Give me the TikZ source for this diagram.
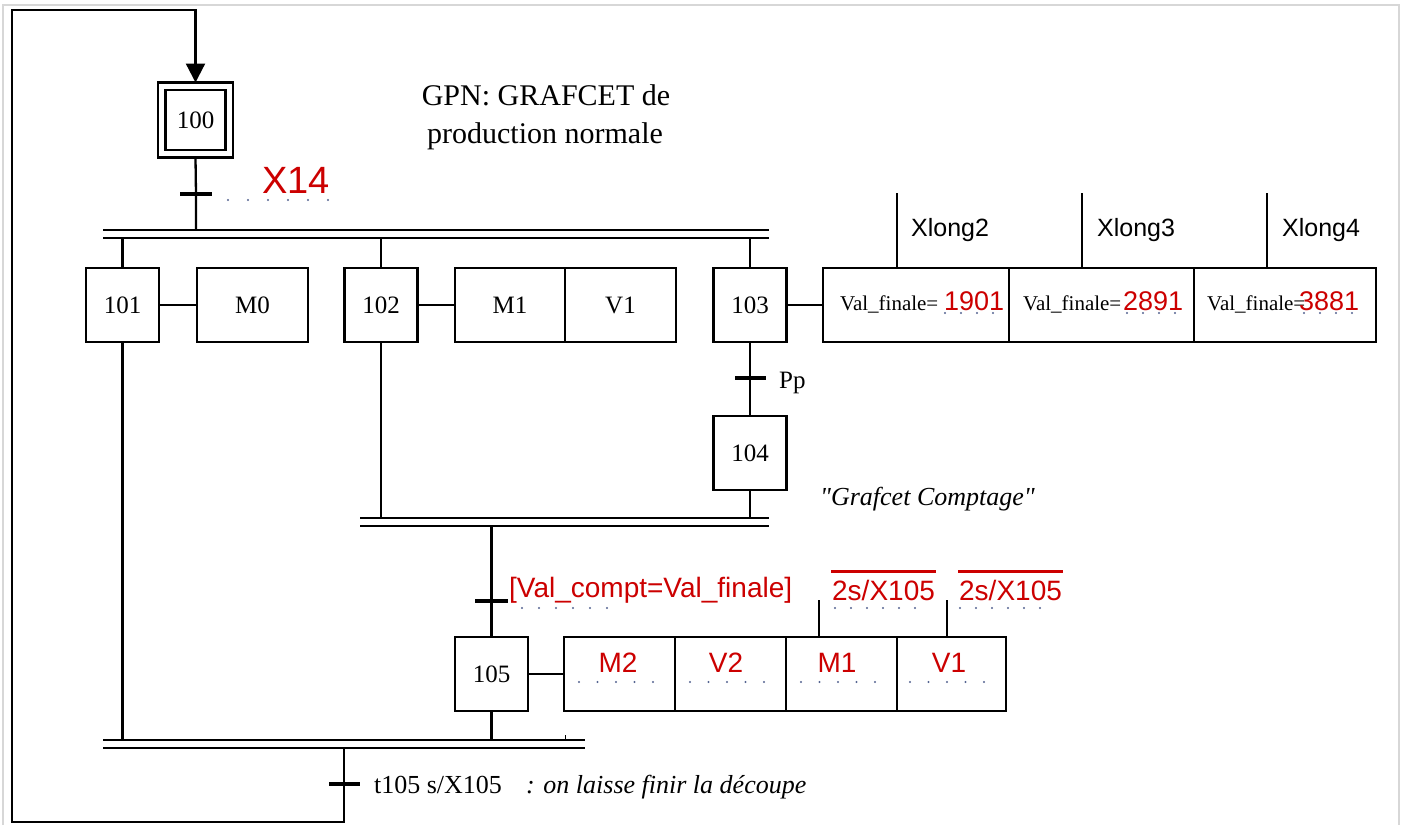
\documentclass[tikz,border=0pt]{standalone}
\usepackage{fontspec}
\setmainfont{Liberation Serif}
\newfontfamily\arialf{Liberation Sans}
\usetikzlibrary{arrows.meta,calc}
\definecolor{redt}{RGB}{204,0,0}
\definecolor{dotc}{RGB}{85,100,145}
\definecolor{framec}{RGB}{215,215,215}
\begin{document}
\begin{tikzpicture}[x=1pt,y=-1pt,line width=2.3pt,
  stepbox/.style={draw, line width=2.3pt, minimum width=73pt, minimum height=74pt, inner sep=0pt, outer sep=0pt, font=\fontsize{25}{30}\selectfont},
  actbox/.style={draw, line width=2.3pt, minimum height=74pt, inner sep=0pt, outer sep=0pt, font=\fontsize{25}{30}\selectfont},
  tbar/.style={fill=black, draw=none, minimum width=32pt, minimum height=4.8pt, inner sep=0pt, outer sep=0pt},
  dblbar/.style={line width=2.6pt},
  link/.style={line width=2.3pt},
  dotrow/.style={dotc, line width=2.2pt, line cap=round, dash pattern=on 0pt off #1},
  redlbl/.style={text=redt, font=\arialf\fontsize{28}{33}\selectfont, inner sep=0pt, anchor=base west},
  redsmall/.style={text=redt, font=\arialf\fontsize{27}{32}\selectfont, inner sep=0pt, anchor=base west},
  vallbl/.style={font=\fontsize{21}{25}\selectfont, inner sep=0pt, anchor=base west},
  xlbl/.style={font=\arialf\fontsize{25}{30}\selectfont, inner sep=0pt, anchor=base west},
  txt/.style={font=\fontsize{26}{31}\selectfont, inner sep=0pt, anchor=base west},
  ovl/.style={redt, line width=3pt}
]
\useasboundingbox (0,0) rectangle (1405,825);
\fill[white] (0,0) rectangle (1405,825);
\draw[framec, line width=1.2pt] (3,825) -- (3,5) -- (1399,5) -- (1399,825);

% ---------- coordinates ----------
\coordinate (looptop) at (12,10);
\coordinate (loopbot) at (12,822);
\coordinate (b1top) at (0,230);
\coordinate (b1bot) at (0,238);
\coordinate (b2top) at (0,518);
\coordinate (b2bot) at (0,526);
\coordinate (b3top) at (0,740);
\coordinate (b3bot) at (0,748);
\coordinate (ovy) at (0,571);

% ---------- steps ----------
\node[draw, line width=2.3pt, minimum size=75pt, inner sep=0pt, outer sep=0pt] (s100) at (195.5,120) {};
\node[stepbox, minimum width=60pt, minimum height=60pt] (s100i) at (s100) {100};
\node[stepbox] (s101) at (122.5,305) {101};
\node[stepbox] (s102) at (381,305) {102};
\node[stepbox] (s103) at (750,305) {103};
\node[stepbox] (s104) at (750,453) {104};
\node[stepbox] (s105) at (491.5,674) {105};

% ---------- actions ----------
\node[actbox, minimum width=111pt] (a101) at (252.5,305) {M0};
\node[actbox, minimum width=110pt, anchor=west] (a102a) at (455,305) {M1};
\node[actbox, minimum width=111pt, anchor=west] (a102b) at (a102a.east) {V1};
\node[actbox, minimum width=186pt, anchor=west] (a103a) at (823,305) {};
\node[actbox, minimum width=185pt, anchor=west] (a103b) at (a103a.east) {};
\node[actbox, minimum width=182pt, anchor=west] (a103c) at (a103b.east) {};
\node[actbox, minimum width=111pt, anchor=west] (a105a) at (564,674) {};
\node[actbox, minimum width=111pt, anchor=west] (a105b) at (a105a.east) {};
\node[actbox, minimum width=111pt, anchor=west] (a105c) at (a105b.east) {};
\node[actbox, minimum width=109pt, anchor=west] (a105d) at (a105c.east) {};

% ---------- transitions ----------
\node[tbar] (t100) at (196,194) {};
\node[tbar, minimum width=31pt] (t103) at (750,378) {};
\node[tbar, minimum width=33pt] (t105) at (491.5,601) {};
\node[tbar, minimum width=31pt] (t106) at (344,784) {};

% ---------- double bars ----------
\draw[dblbar] (103,230) -- (769,230);
\draw[dblbar] (103,238) -- (769,238);
\draw[dblbar] (360,518) -- (769,518);
\draw[dblbar] (360,526) -- (769,526);
\draw[dblbar] (103,740) -- (585,740);
\draw[dblbar] (103,748) -- (585,748);
\draw[line width=1pt] (565,735) -- (565,740);

% ---------- connectors ----------
\draw[link] (s100.south) -- (t100.center) -- (t100.center |- b1top);
\draw[link] (s101.north |- b1bot) -- (s101.north);
\draw[link] (s102.north |- b1bot) -- (s102.north);
\draw[link] (s103.north |- b1bot) -- (s103.north);
\draw[link] (s101.east) -- (a101.west);
\draw[link] (s102.east) -- (a102a.west);
\draw[link] (s103.east) -- (a103a.west);
\draw[link] (s103.south) -- (t103.center) -- (s104.north);
\draw[link] (s104.south) -- (s104.south |- b2top);
\draw[link] (s102.south) -- (s102.south |- b2top);
\draw[link] (s105.north |- b2bot) -- (t105.center) -- (s105.north);
\draw[link] (s105.east) -- (a105a.west);
\draw[link] (s105.south) -- (s105.south |- b3top);
\draw[link] (s101.south) -- (s101.south |- b3top);
\coordinate (j3) at (344,748);
\draw[link, -{Triangle[width=19pt,length=19pt]}] (j3) -- (t106.center) -- (t106.center |- loopbot) -- (loopbot) -- (looptop) -- (s100.north |- looptop) -- (s100.north);

% Xlong taps
\coordinate (xl2) at (897,193);
\coordinate (xl3) at (1082,193);
\coordinate (xl4) at (1267,193);
\draw[link] (xl2) -- (xl2 |- a103a.north);
\draw[link] (xl3) -- (xl3 |- a103b.north);
\draw[link] (xl4) -- (xl4 |- a103c.north);
\coordinate (tm1) at (819,600);
\coordinate (tv1) at (947,600);
\draw[link] (tm1) -- (tm1 |- a105c.north);
\draw[link] (tv1) -- (tv1 |- a105d.north);

% ---------- dots ----------
\draw[dotrow=20pt] (228,200) -- (328.5,200);
\draw[dotrow=16pt] (945,313) -- (993.5,313);
\draw[dotrow=16pt] (1127,313) -- (1175.5,313);
\draw[dotrow=16pt] (1304,313) -- (1352.5,313);
\draw[dotrow=17pt] (522,608) -- (607.5,608);
\draw[dotrow=16pt] (835,608) -- (915.5,608);
\draw[dotrow=16pt] (960,608) -- (1040.5,608);
\draw[dotrow=18.5pt] (579,682) -- (653.5,682);
\draw[dotrow=18.5pt] (690,682) -- (764.5,682);
\draw[dotrow=18.5pt] (801,682) -- (875.5,682);
\draw[dotrow=18.5pt] (910,682) -- (984.5,682);

% ---------- texts ----------
\node[text=redt, font=\arialf\fontsize{38}{44}\selectfont, inner sep=0pt, anchor=base west] (lx14) at (261,193) {X14};
\node[font=\fontsize{30}{36}\selectfont, inner sep=0pt, anchor=base] (gpn1) at (546,105) {GPN: GRAFCET de};
\node[font=\fontsize{30}{36}\selectfont, inner sep=0pt, anchor=base] (gpn2) at (545,143) {production normale};
\node[xlbl] (xlong2) at (910,236) {Xlong2};
\node[xlbl] (xlong3) at (1096,236) {Xlong3};
\node[xlbl] (xlong4) at (1281,236) {Xlong4};
\node[vallbl] (vf1) at (839,310) {Val\_finale=};
\node[redsmall] (n1) at (943,310) {1901};
\node[vallbl] (vf2) at (1022,310) {Val\_finale=};
\node[redsmall] (n2) at (1122,310) {2891};
\node[vallbl] (vf3) at (1206,310) {Val\_finale=};
\node[redsmall] (n3) at (1298,310) {3881};
\node[font=\fontsize{25}{30}\selectfont, inner sep=0pt, anchor=base west] (pp) at (778,388) {Pp};
\node[txt, font=\fontsize{26}{31}\selectfont\itshape] (gc) at (819,505) {\textquotedbl Grafcet Comptage\textquotedbl};
\node[redlbl] (cond) at (508,597) {[Val\_compt=Val\_finale]};
\node[redlbl] (tmp1) at (831,600) {2s/X105};
\node[redlbl] (tmp2) at (958,600) {2s/X105};
\draw[ovl] (tmp1.west |- ovy) -- (tmp1.east |- ovy);
\draw[ovl] (tmp2.west |- ovy) -- (tmp2.east |- ovy);
\node[redlbl, anchor=base] (m2) at (618,672) {M2};
\node[redlbl, anchor=base] (v2) at (726,672) {V2};
\node[redlbl, anchor=base] (m1b) at (837,672) {M1};
\node[redlbl, anchor=base] (v1b) at (949,672) {V1};
\node[txt] (t105l) at (373,793) {t105 s/X105};
\node[txt, font=\fontsize{26}{31}\selectfont\itshape] (note) at (525,793) {: on laisse finir la découpe};
\end{tikzpicture}
\end{document}
